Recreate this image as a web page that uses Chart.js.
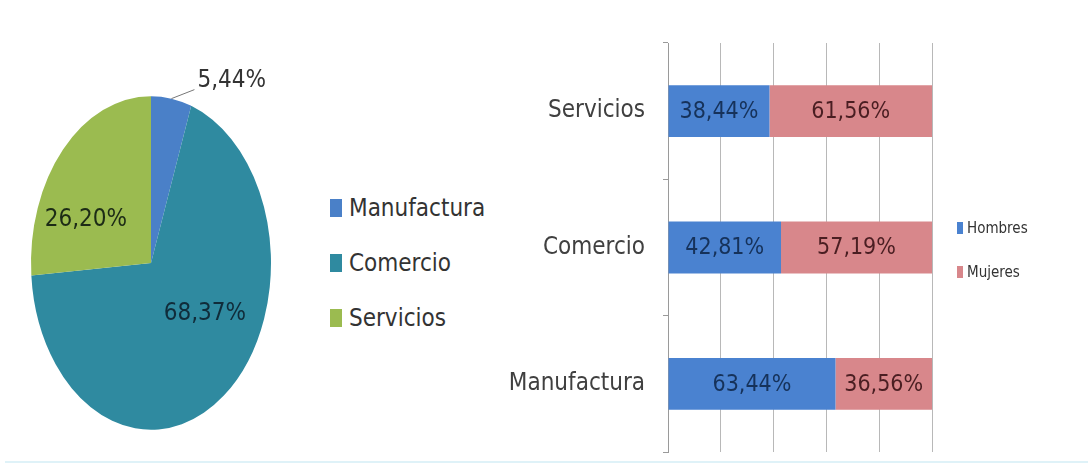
<!DOCTYPE html>
<html lang="es">
<head>
<meta charset="utf-8">
<script src="https://cdn.jsdelivr.net/npm/chart.js@4"></script>
<style>
  html, body { margin: 0; padding: 0; background: #fff; }
  body { width: 1088px; height: 464px; position: relative; overflow: hidden;
         font-family: "Liberation Sans Narrow", "DejaVu Sans Condensed", sans-serif; }
  #pieBox { position: absolute; left: 0; top: 0; width: 300px; height: 464px; }
  #barBox { position: absolute; left: 480px; top: 0; width: 608px; height: 464px; }
  .legend { position: absolute; color: #333; }
  .legend .item { display: flex; align-items: center; white-space: nowrap; }
  .legend .sw { display: inline-block; }
  #pieLegend { left: 330px; top: 194px; font-size: 24px; }
  #pieLegend .item { height: 28px; margin-bottom: 27px; }
  #pieLegend .sw { width: 12px; height: 18px; margin-right: 7px; }
  #barLegend { left: 957px; top: 219px; font-size: 15px; }
  #barLegend .item { height: 18px; margin-bottom: 26px; }
  #barLegend .sw { width: 6px; height: 12px; margin-right: 4px; }
  #bottomLine { position: absolute; left: 5px; right: 0; top: 461px; height: 2px; background: #dff2f8; }
</style>
</head>
<body>
<div id="pieBox"><canvas id="pie"></canvas></div>
<div id="pieLegend" class="legend"></div>
<div id="barBox"><canvas id="bar"></canvas></div>
<div id="barLegend" class="legend"></div>
<div id="bottomLine"></div>
<script>
/* ── datos ─────────────────────────────────────────── */
const sectores      = ['Manufactura', 'Comercio', 'Servicios'];
const participacion = [5.44, 68.37, 26.20];
const coloresPie    = ['#4a80c8', '#2f8aa0', '#9bbb50'];

const categorias = ['Servicios', 'Comercio', 'Manufactura'];
const hombres    = [38.44, 42.81, 63.44];
const mujeres    = [61.56, 57.19, 36.56];
const series     = ['Hombres', 'Mujeres'];
const coloresBar = ['#4a82d0', '#d8878b'];

const FONT = "'Liberation Sans Narrow', 'DejaVu Sans Condensed', sans-serif";
const fmt = v => v.toFixed(2).replace('.', ',') + '%';

// pie se dibuja achatado: escala vertical
const ESCALA_Y = 1.39;

/* ── leyendas html ─────────────────────────────────── */
function leyenda(id, nombres, colores) {
  const el = document.getElementById(id);
  nombres.forEach((n, i) => {
    const it = document.createElement('div');
    it.className = 'item';
    it.innerHTML = `<span class="sw" style="background:${colores[i]}"></span><span>${n}</span>`;
    el.appendChild(it);
  });
}
leyenda('pieLegend', sectores, coloresPie);
leyenda('barLegend', series, coloresBar);

/* ── plugin: pie elíptico + etiquetas ──────────────── */
const elipse = {
  id: 'elipse',
  beforeDatasetsDraw(chart) {
    const a = chart.getDatasetMeta(0).data[0];
    const ctx = chart.ctx;
    ctx.save();
    ctx.translate(a.x, a.y);
    ctx.scale(1, ESCALA_Y);
    ctx.translate(-a.x, -a.y);
  },
  afterDatasetsDraw(chart) {
    chart.ctx.restore();
    const ctx = chart.ctx;
    const arcs = chart.getDatasetMeta(0).data;
    ctx.save();
    ctx.font = `24px ${FONT}`;
    ctx.textAlign = 'center';
    ctx.textBaseline = 'middle';
    arcs.forEach((a, i) => {
      const mid = (a.startAngle + a.endAngle) / 2;
      const cx = Math.cos(mid), cy = Math.sin(mid);
      const v = participacion[i];
      if (v < 10) {
        // etiqueta externa con línea guía
        const px = a.x + cx * a.outerRadius;
        const py = a.y + cy * a.outerRadius * ESCALA_Y;
        ctx.strokeStyle = '#777';
        ctx.lineWidth = 1;
        ctx.beginPath();
        ctx.moveTo(px, py);
        ctx.lineTo(px + 23, py - 9);
        ctx.stroke();
        ctx.fillStyle = '#333';
        ctx.textAlign = 'left';
        ctx.fillText(fmt(v), px + 26, py - 18);
        ctx.textAlign = 'center';
      } else {
        ctx.fillStyle = i === 1 ? '#102c3a' : '#1c2b16';
        ctx.fillText(fmt(v),
          a.x + cx * a.outerRadius * 0.74,
          a.y + cy * a.outerRadius * ESCALA_Y * 0.38);
      }
    });
    ctx.restore();
  }
};

new Chart(document.getElementById('pie'), {
  type: 'pie',
  data: {
    labels: sectores,
    datasets: [{
      data: participacion,
      backgroundColor: coloresPie,
      borderWidth: 0
    }]
  },
  options: {
    responsive: true,
    maintainAspectRatio: false,
    animation: false,
    layout: { padding: { left: 31, right: 29, top: 143, bottom: 81 } },
    plugins: { legend: { display: false }, tooltip: { enabled: false } }
  },
  plugins: [elipse]
});

/* ── plugin: etiquetas dentro de barras ────────────── */
const etiquetasBarras = {
  id: 'etiquetasBarras',
  afterDatasetsDraw(chart) {
    const ctx = chart.ctx;
    ctx.save();
    ctx.font = `23px ${FONT}`;
    ctx.textAlign = 'center';
    ctx.textBaseline = 'middle';
    chart.data.datasets.forEach((ds, d) => {
      ctx.fillStyle = d === 0 ? '#16325a' : '#4a1e22';
      chart.getDatasetMeta(d).data.forEach((bar, i) => {
        const x = (bar.x + bar.base) / 2;
        ctx.fillText(fmt(ds.data[i]), x, bar.y + 1);
      });
    });
    ctx.restore();
  }
};

new Chart(document.getElementById('bar'), {
  type: 'bar',
  data: {
    labels: categorias,
    datasets: [
      { label: series[0], data: hombres, backgroundColor: coloresBar[0] },
      { label: series[1], data: mujeres, backgroundColor: coloresBar[1] }
    ]
  },
  options: {
    indexAxis: 'y',
    responsive: true,
    maintainAspectRatio: false,
    animation: false,
    layout: { padding: { left: 0, right: 156, top: 43, bottom: 12 } },
    datasets: { bar: { categoryPercentage: 1, barPercentage: 0.38 } },
    plugins: { legend: { display: false }, tooltip: { enabled: false } },
    scales: {
      x: {
        stacked: true,
        min: 0,
        max: 100,
        ticks: { display: false, stepSize: 20 },
        border: { display: false },
        grid: { color: '#b8b8b8', lineWidth: 1, drawTicks: false },
        afterFit(s) { s.height = 0; }
      },
      y: {
        stacked: true,
        border: { display: true, color: '#9a9a9a' },
        grid: { drawOnChartArea: false, color: '#9a9a9a', tickLength: 5 },
        ticks: { color: '#404040', padding: 18, font: { family: FONT, size: 24 } },
        afterFit(s) {
          s.width = 188;
          s.paddingTop = 0;
          s.paddingBottom = 0;
        }
      }
    }
  },
  plugins: [etiquetasBarras]
});
</script>
</body>
</html>
